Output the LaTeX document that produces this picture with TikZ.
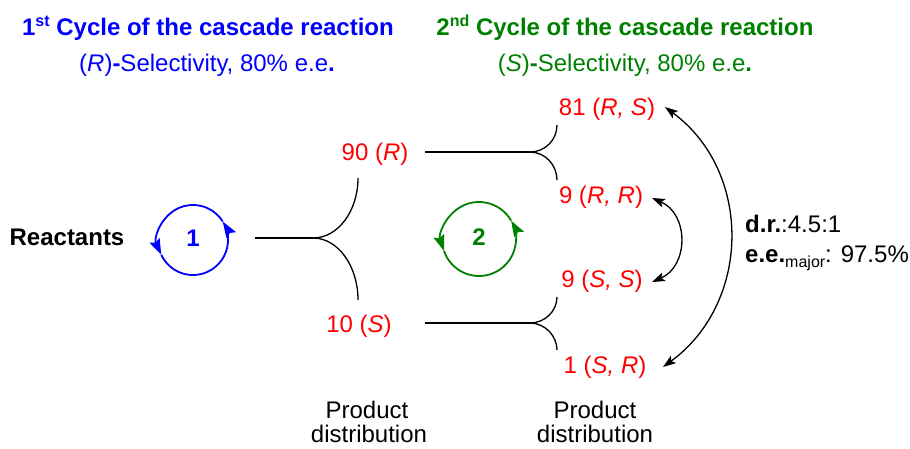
\documentclass[tikz,border=0pt]{standalone}
\usepackage{fontspec}
\setmainfont{Liberation Sans}
\usetikzlibrary{arrows.meta}
\definecolor{cblue}{RGB}{0,0,255}
\definecolor{cgreen}{RGB}{0,128,0}
\definecolor{cred}{RGB}{255,0,0}
\begin{document}
\begin{tikzpicture}[x=1pt,y=1pt,
  txt/.style={anchor=base, inner sep=0pt, font=\fontsize{24}{28.8}\selectfont},
  redtxt/.style={txt, text=cred},
  fork/.style={draw=black, line width=1.3pt},
  stem/.style={draw=black, line width=2pt},
  dbl/.style={draw=black, line width=1.3pt, {Stealth[length=13pt,width=9pt,inset=3pt]}-{Stealth[length=13pt,width=9pt,inset=3pt]}},
  cyc/.style={line width=1.8pt, -{Stealth[length=16pt,width=11pt,inset=2.5pt]}},
]
\useasboundingbox (0,0) rectangle (910,-448);

% titles
\node[txt, text=cblue] (t1) at (208,-35) {\bfseries 1\raisebox{9pt}{\fontsize{16}{16}\selectfont st} Cycle of the cascade reaction};
\node[txt, text=cblue] (s1) at (207,-71) {(\textit{R})\textbf{-}Selectivity, 80\% e.e\textbf{.}};
\node[txt, text=cgreen] (t2) at (625,-35) {\bfseries 2\raisebox{9pt}{\fontsize{16}{16}\selectfont nd} Cycle of the cascade reaction};
\node[txt, text=cgreen] (s2) at (625,-71) {(\textit{S})\textbf{-}Selectivity, 80\% e.e\textbf{.}};

% reactants and cycles
\node[txt] (react) at (67,-245) {\bfseries Reactants};
\node[txt, text=cblue] (c1) at (193,-246) {\bfseries 1};
\draw[cyc, cblue] (193,-240) ++(-155:35) arc[start angle=-155, end angle=32, radius=35];
\draw[cyc, cblue] (193,-240) ++(32:35) arc[start angle=32, end angle=205, radius=35];
\node[txt, text=cgreen] (c2) at (479,-245) {\bfseries 2};
\draw[cyc, cgreen] (479,-239) ++(-161:37) arc[start angle=-161, end angle=30, radius=37];
\draw[cyc, cgreen] (479,-239) ++(30:37) arc[start angle=30, end angle=199, radius=37];

% first fork
\coordinate (a0) at (255,-238);
\coordinate (f1) at (313,-238);
\coordinate (f1u) at (358,-178);
\coordinate (f1d) at (358,-300);
\draw[stem] (a0) -- (f1);
\draw[fork] (f1) .. controls (338,-238) and (358,-211) .. (f1u);
\draw[fork] (f1) .. controls (338,-238) and (358,-266) .. (f1d);

% first-cycle products
\node[redtxt] (n90) at (375,-160) {90 (\textit{R})};
\node[redtxt] (n10) at (359,-332) {10 (\textit{S})};

% second forks
\coordinate (b0) at (425,-152);
\coordinate (f2) at (530,-152);
\coordinate (f2u) at (557,-125);
\coordinate (f2d) at (557,-180);
\draw[stem] (b0) -- (f2);
\draw[fork] (f2) .. controls (545,-152) and (557,-140) .. (f2u);
\draw[fork] (f2) .. controls (545,-152) and (557,-165) .. (f2d);

\coordinate (d0) at (425,-323);
\coordinate (f3) at (530,-323);
\coordinate (f3u) at (557,-297);
\coordinate (f3d) at (557,-350);
\draw[stem] (d0) -- (f3);
\draw[fork] (f3) .. controls (545,-323) and (557,-311) .. (f3u);
\draw[fork] (f3) .. controls (545,-323) and (557,-336) .. (f3d);

% second-cycle products
\node[redtxt] (n81) at (607,-115) {81 (\textit{R, S})};
\node[redtxt] (n9RR) at (601,-203) {9 (\textit{R, R})};
\node[redtxt] (n9SS) at (602,-287) {9 (\textit{S, S})};
\node[redtxt] (n1SR) at (605,-373) {1 (\textit{S, R})};

% double arrows
\coordinate (g1) at (665,-107);
\coordinate (g2) at (663,-367);
\draw[dbl] (g1) .. controls (753,-172) and (751,-303) .. (g2);
\coordinate (h1) at (652,-198);
\coordinate (h2) at (652,-282);
\draw[dbl] (h1) .. controls (689,-214) and (689,-266) .. (h2);

% ratios
\node[txt, anchor=base west] (dr) at (745,-232) {\textbf{d.r.}:4.5:1};
\node[txt, anchor=base west] (ee) at (745,-262) {\textbf{e.e.}\raisebox{-5pt}{\fontsize{16}{16}\selectfont major}: 97.5\%};

% captions
\node[txt] (p1a) at (367,-418) {Product};
\node[txt] (p1b) at (369,-442) {distribution};
\node[txt] (p2a) at (595,-418) {Product};
\node[txt] (p2b) at (595,-442) {distribution};
\end{tikzpicture}
\end{document}
